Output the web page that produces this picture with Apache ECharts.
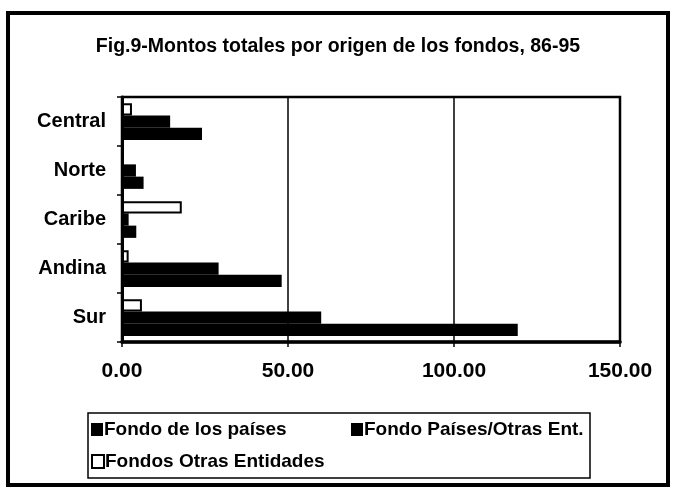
<!DOCTYPE html>
<html>
<head>
<meta charset="utf-8">
<script src="https://cdn.jsdelivr.net/npm/echarts@6/dist/echarts.min.js"></script>
<style>
html,body{margin:0;padding:0;background:#fff;}
#c{width:676px;height:494px;}
</style>
</head>
<body>
<div id="c"></div>
<script>
const categories = ['Sur', 'Andina', 'Caribe', 'Norte', 'Central'];
const fondoPaises = [119.2, 48.1, 4.3, 6.5, 24.1];
const fondoPaisesOtras = [60.0, 29.1, 2.0, 4.2, 14.5];
const fondosOtrasEntidades = [6.0, 2.0, 18.0, 0, 3.0];
const xTicks = [0, 50, 100, 150];
const seriesNames = ['Fondo de los países', 'Fondo Países/Otras Ent.', 'Fondos Otras Entidades'];

const FONT = 'Liberation Sans, Arial, sans-serif';
const chart = echarts.init(document.getElementById('c'), null, {renderer: 'canvas'});

const legendText = {fontFamily: FONT, fontWeight: 'bold', fontSize: 19, color: '#000', padding: [0, 0, 0, -4]};
const legendBase = {padding: 0, icon: 'rect', itemWidth: 12, itemHeight: 13, itemGap: 0, textStyle: legendText};
const option = {
  backgroundColor: '#fff',
  animation: false,
  title: {
    text: 'Fig.9-Montos totales por origen de los fondos, 86-95',
    left: 'center',
    top: 32,
    textStyle: {fontFamily: FONT, fontWeight: 'bold', fontSize: 19.5, color: '#000'}
  },
  graphic: [
    {type: 'rect', shape: {x: 8, y: 13, width: 660, height: 472}, style: {fill: 'none', stroke: '#000', lineWidth: 4}, z: -1},
    {type: 'rect', shape: {x: 88, y: 413, width: 502, height: 65}, style: {fill: 'none', stroke: '#000', lineWidth: 1.5}, z: -1}
  ],
  legend: [
    Object.assign({data: [seriesNames[0]], left: 91, top: 420}, legendBase),
    Object.assign({data: [seriesNames[1]], left: 351, top: 420}, legendBase),
    Object.assign({data: [seriesNames[2]], left: 91, top: 452}, legendBase)
  ],
  grid: {left: 122, right: 56, top: 97, bottom: 152, show: true, borderColor: '#000', borderWidth: 2.5, backgroundColor: 'transparent'},
  xAxis: {
    type: 'value', min: xTicks[0], max: xTicks[xTicks.length - 1], interval: 50,
    axisLine: {show: true, lineStyle: {color: '#000', width: 3.5}},
    axisTick: {show: true, length: 5, lineStyle: {color: '#000', width: 1.5}},
    splitLine: {show: true, lineStyle: {color: '#000', width: 1.5}},
    axisLabel: {fontFamily: FONT, fontWeight: 'bold', fontSize: 21, color: '#000', margin: 19,
      formatter: v => v.toFixed(2)}
  },
  yAxis: {
    type: 'category', data: categories,
    axisLine: {show: true, lineStyle: {color: '#000', width: 3}},
    axisTick: {show: true, length: 5, lineStyle: {color: '#000', width: 1.5}},
    axisLabel: {fontFamily: FONT, fontWeight: 'bold', fontSize: 20, color: '#000', margin: 16}
  },
  series: [
    {name: seriesNames[2], type: 'bar', data: fondosOtrasEntidades, barGap: '0%', barCategoryGap: '25%',
     itemStyle: {color: '#fff', borderColor: '#000', borderWidth: 2}},
    {name: seriesNames[1], type: 'bar', data: fondoPaisesOtras, barGap: '0%', barCategoryGap: '25%',
     itemStyle: {color: '#000'}},
    {name: seriesNames[0], type: 'bar', data: fondoPaises, barGap: '0%', barCategoryGap: '25%',
     itemStyle: {color: '#000'}}
  ]
};
chart.setOption(option);
</script>
</body>
</html>
